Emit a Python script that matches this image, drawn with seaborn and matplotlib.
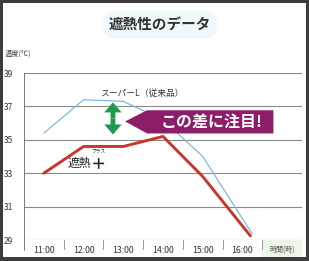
import matplotlib
matplotlib.use("Agg")
import matplotlib.pyplot as plt
import seaborn as sns
import pandas as pd
from matplotlib.patches import Rectangle, Polygon, FancyArrow
import matplotlib.transforms as mtransforms

# ---- data ----
hours = [11, 12, 13, 14, 15, 16]
tick_labels = ["11:00", "12:00", "13:00", "14:00", "15:00", "16:00", "時間(時)"]
red_x = [11, 12, 13, 14, 15, 16.2]
red_y = [33.0, 34.6, 34.6, 35.2, 32.8, 29.25]
blue_x = [11, 12, 13, 14, 15, 16.25]
blue_y = [35.4, 37.4, 37.3, 36.2, 34.0, 29.35]
yticks = [29, 31, 33, 35, 37, 39]

sns.set_style("white")
plt.rcParams["font.family"] = ["Noto Sans CJK JP", "DejaVu Sans"]

W, H = 309, 261
fig = plt.figure(figsize=(W / 100, H / 100), dpi=100)
fig.patch.set_facecolor("#3c3c3c")
fig.patches.append(Rectangle((3 / W, 4 / H), 303 / W, 254 / H,
                             transform=fig.transFigure, facecolor="white",
                             edgecolor="none", zorder=-5))

ax = fig.add_axes([24 / W, (H - 240) / H, (302 - 24) / W, (240 - 73) / H])
ax.set_zorder(2)
ax.set_facecolor("none")

df_blue = pd.DataFrame({"x": blue_x, "y": blue_y})
df_red = pd.DataFrame({"x": red_x, "y": red_y})
sns.lineplot(data=df_blue, x="x", y="y", ax=ax, color="#6bb4e0", lw=0.8, zorder=3)
sns.lineplot(data=df_red, x="x", y="y", ax=ax, color="#c9372b", lw=2.1, zorder=4)

ax.set_xlim(10.5, 17.5)
ax.set_ylim(29, 39)
ax.set_xlabel("")
ax.set_ylabel("")
for s in ax.spines.values():
    s.set_visible(False)

# horizontal gridlines
ax.set_yticks(yticks)
ax.set_yticklabels([str(v) for v in yticks], fontsize=6, color="#333333")
ax.tick_params(axis="y", length=3, width=0.6, color="#777777", pad=5)
for v in yticks:
    ax.axhline(v, color="#8a8a8a", lw=0.8, zorder=1)

# x labels as category bands
ax.set_xticks(hours + [17])
ax.set_xticklabels(tick_labels, fontsize=6.3, color="#333333")
ax.tick_params(axis="x", length=0, pad=4)
for lab in ax.get_xticklabels()[-1:]:
    lab.set_fontsize(5)
    lab.set_color("#555555")

trans = mtransforms.blended_transform_factory(ax.transData, ax.transAxes)
ax.add_patch(Rectangle((16.5, -0.1), 1.0, 0.1, transform=trans,
                       facecolor="#edf5e6", edgecolor="none", clip_on=False, zorder=0))
for sx in [11.5, 12.5, 13.5, 14.5, 15.5, 16.5]:
    ax.plot([sx, sx], [0, -0.055], transform=trans, color="#888888", lw=0.6,
            clip_on=False)
ax.plot([10.5, 10.5], [-0.06, 1.0], transform=trans, color="#777777", lw=0.7,
        clip_on=False)

# title & unit
fig.text(160 / W, 1 - 25 / H, "遮熱性のデータ", fontsize=10.5, color="#333333",
         fontweight="bold", ha="center", va="center",
         bbox=dict(boxstyle="round,pad=0.4,rounding_size=0.9",
                   facecolor="#f0f8fb", edgecolor="none"))
fig.text(5 / W, 1 - 54 / H, "温度(℃)", fontsize=5.2, color="#444444",
         ha="left", va="center")

# series labels
ax.text(12.41, 37.78, "スーパーL（従来品）", fontsize=6.3, color="#333333",
        ha="left", va="center", zorder=5)
ax.text(11.6, 33.6, "遮熱", fontsize=8.5, color="#222222", ha="left",
        va="center", zorder=5)
ax.text(12.38, 33.62, "＋", fontsize=11, fontweight="bold", color="#222222",
        ha="center", va="center", zorder=5)
ax.text(12.38, 34.3, "プラス", fontsize=3.4, color="#333333", ha="center",
        va="center", zorder=5)

# green double arrow (two halves from the midpoint)
ax_top, ax_bot, ax_x = 37.24, 35.32, 12.74
mid = (ax_top + ax_bot) / 2
for dy in (ax_top - mid, ax_bot - mid):
    ax.add_patch(FancyArrow(ax_x, mid, 0, dy, width=0.12, head_width=0.44,
                            head_length=0.6, length_includes_head=True,
                            facecolor="#1d9a4c", edgecolor="none", zorder=6))

# callout
callout = Polygon([(13.045, 36.10), (13.60, 36.77), (16.78, 36.77),
                   (16.78, 35.38), (13.60, 35.38)], closed=True,
                  facecolor="#8c1e69", edgecolor="none", zorder=7)
ax.add_patch(callout)
ax.text(15.22, 36.08, "この差に注目!", fontsize=11.5, fontweight="bold",
        color="white", ha="center", va="center", zorder=8)

fig.savefig("out.png", dpi=100, facecolor=fig.get_facecolor())
